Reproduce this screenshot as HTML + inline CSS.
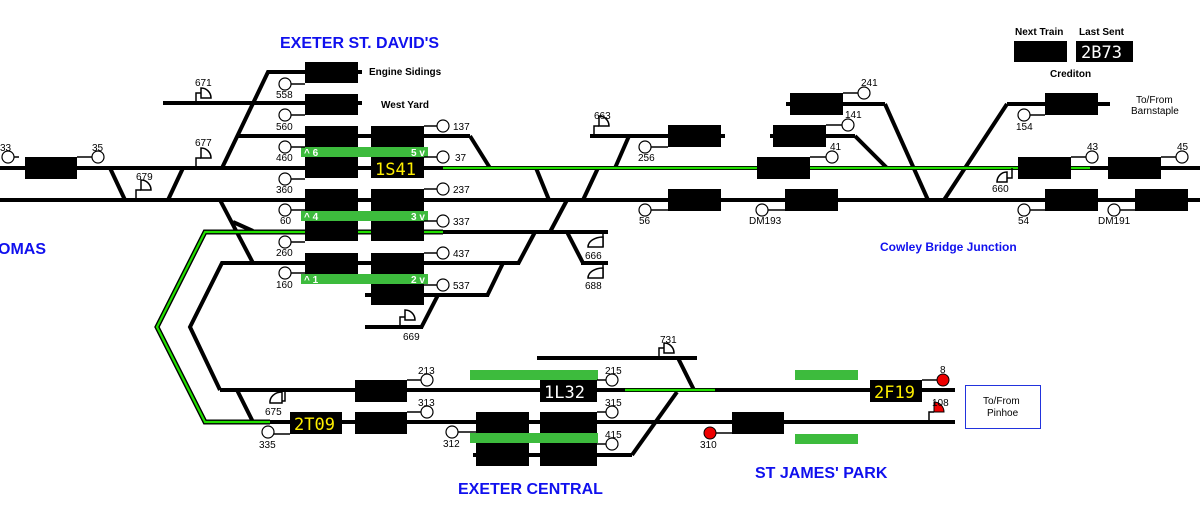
<!DOCTYPE html>
<html><head><meta charset="utf-8"><style>
html,body{margin:0;padding:0;background:#fff;}
svg{display:block;font-family:"Liberation Sans",sans-serif;}
.t{stroke:#000;stroke-width:4;fill:none;}
.s{stroke:#000;stroke-width:1.5;fill:none;}
.c{fill:#fff;stroke:#000;stroke-width:1.2;}
.l{font-size:10px;fill:#000;}
.b{font-size:16px;font-weight:bold;fill:#1010ee;}
.td{font-family:"DejaVu Sans Mono","Liberation Mono",monospace;font-size:17px;fill:#ffef00;}
</style></head><body>
<svg width="1200" height="523" viewBox="0 0 1200 523">
<text x="280" y="48" class="b">EXETER ST. DAVID'S</text>
<text x="-2" y="254" class="b">OMAS</text>
<text x="880" y="251" style="font-size:12px;font-weight:bold;fill:#1010ee">Cowley Bridge Junction</text>
<text x="458" y="494" class="b">EXETER CENTRAL</text>
<text x="755" y="478" class="b">ST JAMES' PARK</text>
<text x="1015" y="35" style="font-size:10px;font-weight:bold">Next Train</text>
<text x="1079" y="35" style="font-size:10px;font-weight:bold">Last Sent</text>
<rect x="1014" y="41" width="53" height="21" fill="#000"/>
<rect x="1076" y="41" width="57" height="21" fill="#000"/>
<text x="1081" y="58" class="td" style="fill:#fff">2B73</text>
<text x="1050" y="77" style="font-size:10px;font-weight:bold">Crediton</text>
<text x="1136" y="103" class="l">To/From</text>
<text x="1131" y="114" class="l">Barnstaple</text>
<text x="369" y="75" style="font-size:10px;font-weight:bold">Engine Sidings</text>
<text x="381" y="108" style="font-size:10px;font-weight:bold">West Yard</text>

<g class="t">
<line x1="0" y1="168" x2="1200" y2="168"/>
<line x1="0" y1="200" x2="1200" y2="200"/>
<line x1="110" y1="168" x2="125" y2="200"/><line x1="183" y1="168" x2="168" y2="200"/>
<line x1="163" y1="103" x2="362" y2="103"/>
<polyline points="222,168 268,72 362,72"/>
<line x1="237" y1="136" x2="470" y2="136"/><line x1="470" y1="136" x2="490" y2="168"/>
<line x1="220" y1="200" x2="253" y2="263"/><line x1="233" y1="222" x2="253" y2="231"/>
<line x1="240" y1="232" x2="608" y2="232"/>
<polyline points="253,263 222,263 190,327 220,390"/>
<line x1="253" y1="263" x2="520" y2="263"/>
<line x1="503" y1="263" x2="487" y2="296"/>
<line x1="365" y1="295" x2="489" y2="295"/>
<line x1="438" y1="295" x2="421" y2="328"/>
<line x1="365" y1="327" x2="423" y2="327"/>
<line x1="567" y1="200" x2="550" y2="232"/><line x1="535" y1="232" x2="518" y2="264"/>
<line x1="567" y1="232" x2="583" y2="263"/>
<line x1="581" y1="263" x2="608" y2="263"/>
<line x1="536" y1="168" x2="549" y2="200"/><line x1="598" y1="168" x2="583" y2="200"/>
<line x1="590" y1="136" x2="725" y2="136"/><line x1="629" y1="136" x2="615" y2="168"/>
<line x1="770" y1="136" x2="855" y2="136"/><line x1="855" y1="136" x2="887" y2="168"/>
<line x1="786" y1="104" x2="885" y2="104"/><line x1="885" y1="104" x2="928" y2="200"/>
<line x1="1110" y1="104" x2="1007" y2="104"/><line x1="1007" y1="104" x2="944" y2="200"/>
<line x1="220" y1="390" x2="955" y2="390"/>
<line x1="205" y1="422" x2="955" y2="422"/>
<line x1="237" y1="390" x2="253" y2="422"/>
<line x1="537" y1="358" x2="697" y2="358"/>
<line x1="678" y1="358" x2="694" y2="390"/>
<line x1="677" y1="392" x2="632" y2="455"/>
<line x1="473" y1="455" x2="632" y2="455"/>
</g>
<g stroke="#000" stroke-width="5" fill="none">
<polyline points="443,232 205,232 157,327 205,422 270,422"/>
</g>
<g stroke="#22e000" stroke-width="2.2" fill="none">
<line x1="443" y1="168" x2="1090" y2="168"/>
<polyline points="443,232 205,232 157,327 205,422 270,422"/>
<line x1="625" y1="390" x2="715" y2="390"/>
</g>
<g fill="#000">
<rect x="25" y="157" width="52" height="22"/>
<rect x="305" y="62" width="53" height="21"/>
<rect x="305" y="94" width="53" height="21"/>
<rect x="305" y="126" width="53" height="52"/><rect x="371" y="126" width="53" height="52"/>
<rect x="305" y="189" width="53" height="52"/><rect x="371" y="189" width="53" height="52"/>
<rect x="305" y="253" width="53" height="21"/><rect x="371" y="253" width="53" height="52"/>
<rect x="668" y="125" width="53" height="22"/>
<rect x="773" y="125" width="53" height="22"/>
<rect x="790" y="93" width="53" height="22"/>
<rect x="1045" y="93" width="53" height="22"/>
<rect x="757" y="157" width="53" height="22"/>
<rect x="1018" y="157" width="53" height="22"/>
<rect x="1108" y="157" width="53" height="22"/>
<rect x="668" y="189" width="53" height="22"/>
<rect x="785" y="189" width="53" height="22"/>
<rect x="1045" y="189" width="53" height="22"/>
<rect x="1135" y="189" width="53" height="22"/>
<rect x="355" y="380" width="52" height="22"/>
<rect x="355" y="412" width="52" height="22"/>
<rect x="290" y="412" width="52" height="22"/>
<rect x="540" y="380" width="57" height="22"/>
<rect x="476" y="412" width="53" height="54"/><rect x="540" y="412" width="57" height="54"/>
<rect x="732" y="412" width="52" height="22"/>
<rect x="870" y="380" width="52" height="22"/>
</g>
<text x="375" y="175" class="td">1S41</text>
<text x="294" y="430" class="td">2T09</text>
<text x="874" y="398" class="td">2F19</text>
<text x="544" y="398" class="td" style="fill:#fff">1L32</text>
<g fill="#3dbb3d">
<rect x="301" y="147" width="127" height="10"/>
<rect x="301" y="211" width="127" height="10"/>
<rect x="301" y="274" width="127" height="10"/>
<rect x="470" y="370" width="128" height="10"/>
<rect x="470" y="433" width="128" height="10"/>
<rect x="795" y="370" width="63" height="10"/>
<rect x="795" y="434" width="63" height="10"/>
</g>
<g style="font-size:10px;font-weight:bold;fill:#fff">
<text x="304" y="156">^ 6</text><text x="411" y="156">5 v</text>
<text x="304" y="220">^ 4</text><text x="411" y="220">3 v</text>
<text x="304" y="283">^ 1</text><text x="411" y="283">2 v</text>
</g>
<g class="s">
<path d="M291 84h14M291 115h14M291 147h14M291 179h14M291 210h14M291 242h14M291 273h14"/>
<path d="M424 126h13M424 157h13M424 189h13M424 221h13M424 253h13M424 285h13"/>
<path d="M77 157h15M14 157h5"/>
<path d="M651 147h17M843 93h15M826 125h16M810 157h16M1030 115h15M1071 157h15M1161 157h15M1030 210h15M1120 210h15M651 210h17M768 210h17"/>
<path d="M407 380h14M407 412h14M597 380h10M597 412h10M597 444h10M458 432h18M274 434h16M716 433h16M922 380h15"/>
</g>
<g class="c">
<circle cx="285" cy="84" r="6"/><circle cx="285" cy="115" r="6"/><circle cx="285" cy="147" r="6"/>
<circle cx="285" cy="179" r="6"/><circle cx="285" cy="210" r="6"/><circle cx="285" cy="242" r="6"/><circle cx="285" cy="273" r="6"/>
<circle cx="443" cy="126" r="6"/><circle cx="443" cy="157" r="6"/><circle cx="443" cy="189" r="6"/>
<circle cx="443" cy="221" r="6"/><circle cx="443" cy="253" r="6"/><circle cx="443" cy="285" r="6"/>
<circle cx="8" cy="157" r="6"/><circle cx="98" cy="157" r="6"/>
<circle cx="645" cy="147" r="6"/><circle cx="864" cy="93" r="6"/><circle cx="848" cy="125" r="6"/>
<circle cx="832" cy="157" r="6"/><circle cx="1024" cy="115" r="6"/><circle cx="1092" cy="157" r="6"/>
<circle cx="1182" cy="157" r="6"/><circle cx="1024" cy="210" r="6"/><circle cx="1114" cy="210" r="6"/>
<circle cx="645" cy="210" r="6"/><circle cx="762" cy="210" r="6"/>
<circle cx="427" cy="380" r="6"/><circle cx="427" cy="412" r="6"/>
<circle cx="612" cy="380" r="6"/><circle cx="612" cy="412" r="6"/><circle cx="612" cy="444" r="6"/>
<circle cx="452" cy="432" r="6"/><circle cx="268" cy="432" r="6"/>
</g>
<circle cx="710" cy="433" r="6" fill="#e00" stroke="#000"/>
<circle cx="943" cy="380" r="6" fill="#e00" stroke="#000"/>
<g class="s">
<path d="M196 103v-10h5"/><path d="M201 88a10 10 0 0 1 10 10h-10z" fill="#fff"/>
<path d="M196 168v-10h5"/><path d="M201 148a10 10 0 0 1 10 10h-10z" fill="#fff"/>
<path d="M136 200v-10h5"/><path d="M141 180a10 10 0 0 1 10 10h-10z" fill="#fff"/>
<path d="M594 136v-10h5"/><path d="M599 116a10 10 0 0 1 10 10h-10z" fill="#fff"/>
<path d="M400 327v-10h5"/><path d="M405 310a10 10 0 0 1 10 10h-10z" fill="#fff"/>
<path d="M659 358v-10h5"/><path d="M664 343a10 10 0 0 1 10 10h-10z" fill="#fff"/>
<path d="M285 390v11h-3"/><path d="M282 392a12 10 0 0 0 -12 11h12z" fill="#fff"/>
<path d="M1012 168v10h-5"/><path d="M1007 172a10 10 0 0 0 -10 10h10z" fill="#fff"/>
<path d="M603 232v15"/><path d="M603 247h-15a15 10 0 0 1 15 -10z" fill="#fff"/>
<path d="M603 263v15"/><path d="M603 278h-15a15 10 0 0 1 15 -10z" fill="#fff"/>
<path d="M929 422v-10h5"/>
</g>
<path d="M934 402a10 10 0 0 1 10 10h-10z" fill="#e00" stroke="#000" stroke-width="1"/>
<g class="l">
<text x="0" y="151">33</text><text x="92" y="151">35</text>
<text x="195" y="86">671</text><text x="195" y="146">677</text><text x="136" y="180">679</text>
<text x="276" y="98">558</text><text x="276" y="130">560</text><text x="276" y="161">460</text>
<text x="276" y="193">360</text><text x="280" y="224">60</text><text x="276" y="256">260</text><text x="276" y="288">160</text>
<text x="453" y="130">137</text><text x="455" y="161">37</text><text x="453" y="193">237</text>
<text x="453" y="225">337</text><text x="453" y="257">437</text><text x="453" y="289">537</text>
<text x="403" y="340">669</text><text x="594" y="119">663</text><text x="638" y="161">256</text>
<text x="585" y="259">666</text><text x="585" y="289">688</text>
<text x="861" y="86">241</text><text x="845" y="118">141</text><text x="830" y="150">41</text>
<text x="639" y="224">56</text><text x="749" y="224">DM193</text>
<text x="1016" y="130">154</text><text x="1087" y="150">43</text><text x="1177" y="150">45</text>
<text x="992" y="192">660</text><text x="1018" y="224">54</text><text x="1098" y="224">DM191</text>
<text x="418" y="374">213</text><text x="418" y="406">313</text>
<text x="605" y="374">215</text><text x="605" y="406">315</text><text x="605" y="438">415</text>
<text x="443" y="447">312</text><text x="259" y="448">335</text><text x="265" y="415">675</text>
<text x="660" y="343">731</text><text x="700" y="448">310</text>
<text x="940" y="373">8</text><text x="932" y="406">108</text>
</g>
<rect x="965.5" y="385.5" width="75" height="43" fill="#fff" stroke="#2233dd"/>
<text x="983" y="404" class="l">To/From</text><text x="987" y="416" class="l">Pinhoe</text>
</svg>
</body></html>
